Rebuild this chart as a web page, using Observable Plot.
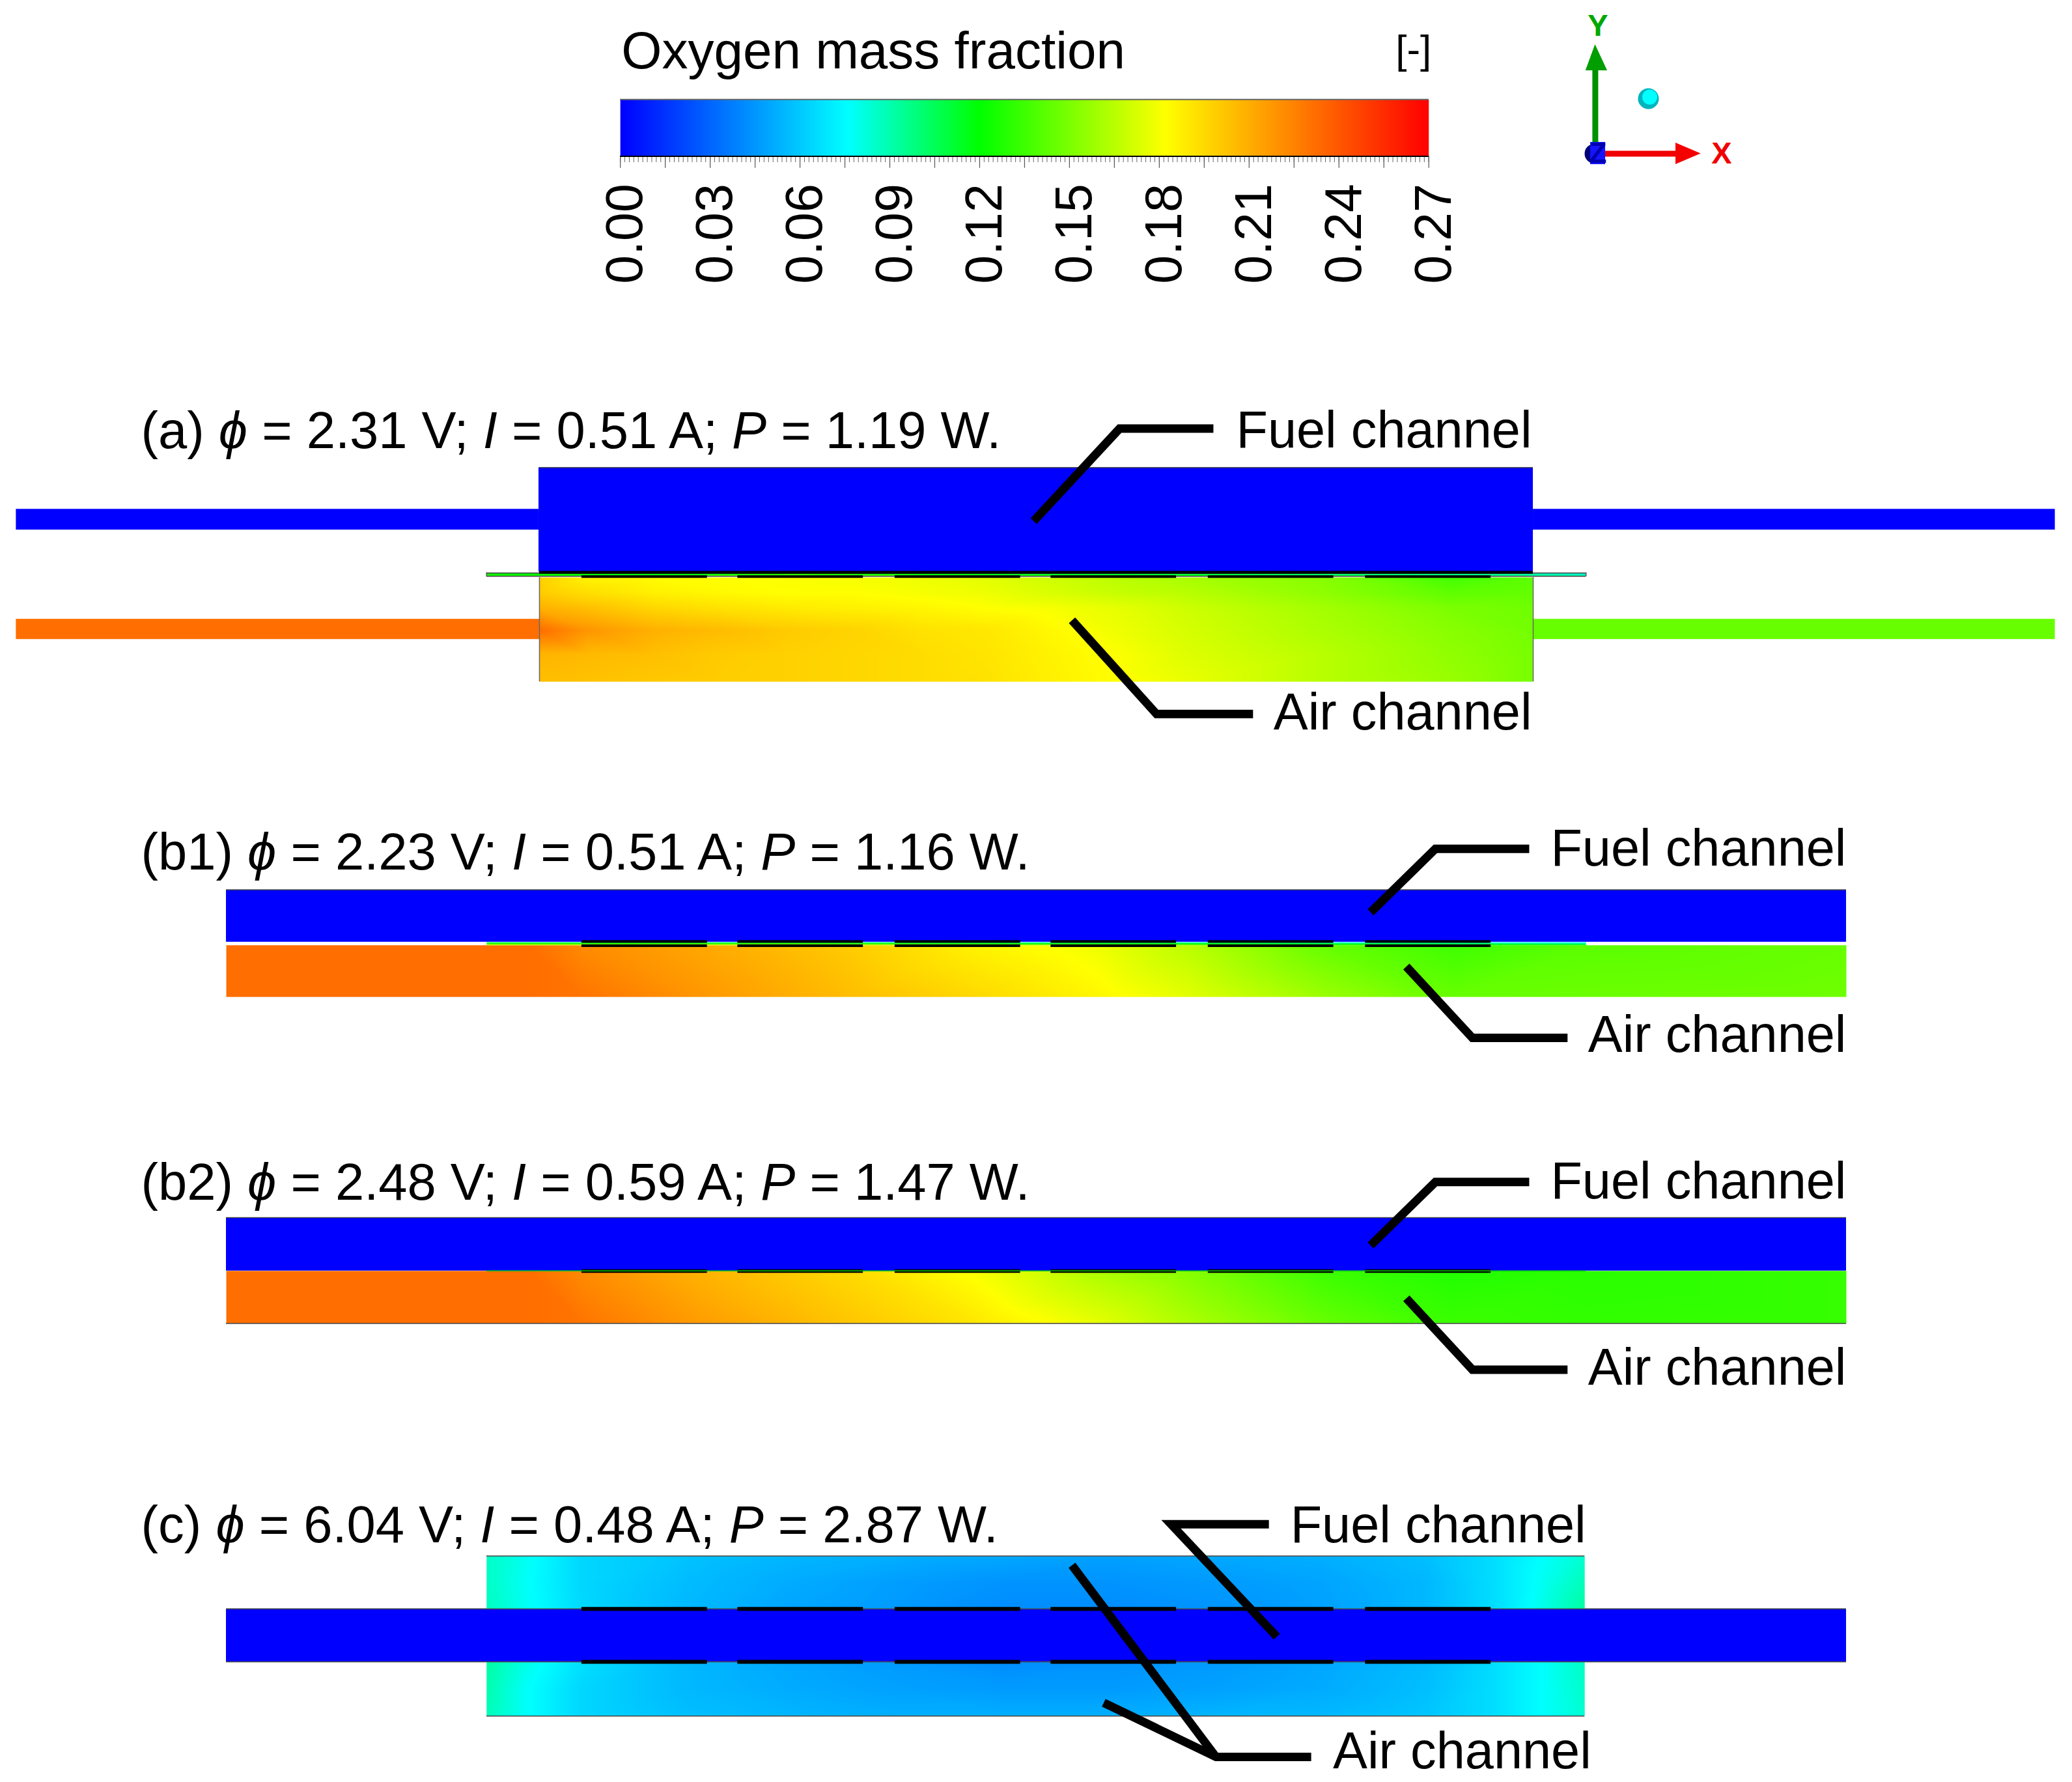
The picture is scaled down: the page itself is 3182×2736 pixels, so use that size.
<!DOCTYPE html>
<html><head><meta charset="utf-8">
<script src="https://cdn.jsdelivr.net/npm/d3@7"></script>
<script src="https://cdn.jsdelivr.net/npm/@observablehq/plot@0.6"></script>
<style>html,body{margin:0;padding:0;background:#fff}svg{display:block}</style>
</head><body><div id="chart"></div>
<script>
// Colour key
const colorStops = [0, 0.076, 0.12, 0.182, 0.27];
const colorRange = ["#0000ff", "#00ffff", "#00ff00", "#ffff00", "#ff0000"];
const cbLabels = [0, 0.03, 0.06, 0.09, 0.12, 0.15, 0.18, 0.21, 0.24, 0.27];
const cbMajor = d3.range(0, 0.2701, 0.015);
const cbMinor = d3.range(0, 0.2701, 0.0015);

// Oxygen mass fraction
const aX = [408, 445, 495, 545, 595, 646, 696, 746, 796, 847, 897, 998, 1098, 1160];
const aY = [436.6, 448.4, 460, 476.4, 494.5, 515.5];
const aRows = [
  [0.198, 0.186, 0.183, 0.182, 0.181, 0.180, 0.178, 0.175, 0.170, 0.165, 0.161, 0.153, 0.136, 0.142],
  [0.200, 0.193, 0.187, 0.184, 0.182, 0.182, 0.180, 0.178, 0.173, 0.168, 0.165, 0.155, 0.143, 0.144],
  [0.209, 0.204, 0.196, 0.192, 0.189, 0.187, 0.185, 0.182, 0.180, 0.176, 0.170, 0.160, 0.150, 0.147],
  [0.232, 0.218, 0.209, 0.205, 0.200, 0.197, 0.192, 0.190, 0.184, 0.178, 0.172, 0.162, 0.153, 0.148],
  [0.208, 0.206, 0.204, 0.200, 0.198, 0.196, 0.194, 0.191, 0.186, 0.181, 0.174, 0.165, 0.155, 0.149],
  [0.204, 0.203, 0.201, 0.199, 0.198, 0.196, 0.194, 0.192, 0.187, 0.182, 0.177, 0.165, 0.157, 0.149]
];
const bX = [171, 400, 440, 530, 640, 740, 830, 900, 1000, 1100, 1200, 1397];
const b1Rows = [
  [0.232, 0.232, 0.222, 0.212, 0.200, 0.186, 0.178, 0.165, 0.145, 0.135, 0.142, 0.145],
  [0.232, 0.232, 0.230, 0.218, 0.205, 0.195, 0.185, 0.175, 0.158, 0.145, 0.146, 0.147]
];
const b2Rows = [
  [0.232, 0.232, 0.222, 0.208, 0.195, 0.180, 0.162, 0.152, 0.135, 0.128, 0.130, 0.133],
  [0.232, 0.232, 0.230, 0.216, 0.202, 0.190, 0.176, 0.162, 0.145, 0.134, 0.132, 0.133]
];
const cX = [368, 395, 440, 520, 600, 680, 760, 840, 920, 1000, 1080, 1130, 1170, 1199];
const cUpperRows = [
  [0.086, 0.079, 0.064, 0.058, 0.054, 0.052, 0.050, 0.048, 0.050, 0.052, 0.057, 0.066, 0.077, 0.084],
  [0.086, 0.078, 0.064, 0.056, 0.051, 0.047, 0.044, 0.044, 0.046, 0.049, 0.055, 0.066, 0.079, 0.088],
  [0.087, 0.079, 0.065, 0.055, 0.049, 0.046, 0.042, 0.042, 0.044, 0.048, 0.055, 0.066, 0.081, 0.092]
];
const cLowerRows = [
  [0.092, 0.081, 0.067, 0.055, 0.050, 0.046, 0.042, 0.044, 0.046, 0.050, 0.056, 0.066, 0.077, 0.086],
  [0.090, 0.078, 0.064, 0.055, 0.051, 0.048, 0.046, 0.046, 0.048, 0.051, 0.057, 0.066, 0.077, 0.085],
  [0.088, 0.078, 0.064, 0.057, 0.054, 0.052, 0.052, 0.052, 0.054, 0.055, 0.059, 0.066, 0.077, 0.084]
];
const memX = [368, 600, 800, 1000, 1200];
const memARows = [[0.120, 0.105, 0.092, 0.086, 0.080], [0.128, 0.160, 0.140, 0.120, 0.092]];
const memB1Rows = [[0.095, 0.090, 0.080, 0.076, 0.070], [0.175, 0.180, 0.165, 0.140, 0.125]];

// Uniform channels
const uniformRects = [
  {x1: 12, x2: 407.5, y1: 385, y2: 400.7, v: 0},
  {x1: 1160, x2: 1555, y1: 385, y2: 400.7, v: 0},
  {x1: 407.5, x2: 1160, y1: 353.5, y2: 432.5, v: 0},
  {x1: 12, x2: 408, y1: 468.2, y2: 483.5, v: 0.232},
  {x1: 1160, x2: 1555, y1: 468.2, y2: 483.5, v: 0.145},
  {x1: 171, x2: 1397, y1: 673, y2: 712.5, v: 0},
  {x1: 171, x2: 1397, y1: 921, y2: 961.3, v: 0},
  {x1: 171, x2: 1397, y1: 1217, y2: 1257, v: 0}
];

// Text
const panelTitles = [
  {t: "(a) ϕ = 2.31 V; I = 0.51 A; P = 1.19 W.", y: 326},
  {t: "(b1) ϕ = 2.23 V; I = 0.51 A; P = 1.16 W.", y: 645},
  {t: "(b2) ϕ = 2.48 V; I = 0.59 A; P = 1.47 W.", y: 895},
  {t: "(c) ϕ = 6.04 V; I = 0.48 A; P = 2.87 W.", y: 1154}
];
const channelLabels = [
  {t: "Fuel channel", x: 1159, y: 326},
  {t: "Air channel", x: 1159, y: 539},
  {t: "Fuel channel", x: 1397, y: 642},
  {t: "Air channel", x: 1397, y: 783},
  {t: "Fuel channel", x: 1397, y: 894},
  {t: "Air channel", x: 1397, y: 1035},
  {t: "Fuel channel", x: 1200, y: 1154},
  {t: "Air channel", x: 1204, y: 1325}
];
const leaders = [
  [[918, 324], [847, 324], [782, 394]],
  [[948, 540], [875, 540], [811, 469]],
  [[1157, 642], [1086, 642], [1037, 690]],
  [[1186, 785], [1114, 785], [1064, 731]],
  [[1157, 894], [1086, 894], [1037, 942]],
  [[1186, 1036], [1114, 1036], [1064, 982]],
  [[960, 1153], [886, 1153], [966, 1238]],
  [[992, 1329], [920, 1329], [835, 1288]],
  [[920, 1329], [811, 1184]]
];
const dashes = [[440, 535], [558, 653], [677, 772], [795, 890], [914, 1009], [1033, 1128]];
const thinDashY = [436, 712.1, 715.3];
const midDashY = [961.4];
const thickDashY = [1217, 1257];
const edges = [
  {x1: 408, x2: 1160, y: 353.5}, {x1: 171, x2: 1397, y: 673},
  {x1: 171, x2: 1397, y: 921}, {x1: 171, x2: 1397, y: 1001}, {x1: 368, x2: 1199, y: 1177},
  {x1: 171, x2: 1397, y: 1217}, {x1: 171, x2: 1397, y: 1257}, {x1: 368, x2: 1199, y: 1298},
  {x1: 368, x2: 1200, y: 433.3}, {x1: 368, x2: 1200, y: 435.7}
];

const barLeft = 469.2, barRight = 1081, barTop = 75, barBottom = 118;
const barX = v => barLeft + (barRight - barLeft) * v / 0.27;

function grid(xs, ys, rows) {
  return rows.flatMap((row, j) => row.map((v, i) => ({x: xs[i], y: ys[j], v})));
}
function field(xs, ys, rows, y1, y2, x1 = xs[0], x2 = xs[xs.length - 1]) {
  return Plot.raster(grid(xs, ys, rows), {
    x: "x", y: "y", fill: "v", interpolate: "barycentric",
    x1, x2, y1, y2
  });
}
const FONT = "Arial, 'Liberation Sans', sans-serif";
const NARROW = "'Liberation Sans Narrow', 'Liberation Sans', sans-serif";

const plot = Plot.plot({
  width: 3182, height: 2736,
  marginTop: 0, marginRight: 0, marginBottom: 0, marginLeft: 0,
  x: {domain: [0, 1568], range: [0, 3182], axis: null},
  y: {domain: [0, 1348.2], range: [0, 2736], axis: null},
  color: {type: "linear", domain: colorStops, range: colorRange, interpolate: "rgb", clamp: true},
  style: {background: "#fff", fontFamily: FONT},
  marks: [
    Plot.rect(uniformRects, {x1: "x1", x2: "x2", y1: "y1", y2: "y2", fill: "v"}),
    // colour bar
    field([barX(0), barX(0.27)], [barTop, barBottom], [[0, 0.27], [0, 0.27]], barTop, barBottom),
    Plot.ruleX(cbMinor, {x: barX, y1: barBottom, y2: 122.7, stroke: "#666", strokeWidth: 1}),
    Plot.ruleX(cbMajor, {x: barX, y1: barBottom, y2: 127, stroke: "#555", strokeWidth: 1.2}),
    Plot.ruleY([barTop], {x1: barLeft, x2: barRight, stroke: "#666", strokeWidth: 2}),
    Plot.ruleY([barBottom], {x1: barLeft, x2: barRight, stroke: "#000", strokeWidth: 2}),
    Plot.text(cbLabels, {
      x: v => barX(v) + 4, y: 214.5, text: d3.format(".2f"), rotate: -90,
      textAnchor: "start", lineAnchor: "middle", fontSize: 79, fill: "#000"
    }),
    Plot.text(["Oxygen mass fraction"], {x: 470, y: 39, textAnchor: "start", lineAnchor: "middle", fontSize: 80, fill: "#000"}),
    Plot.text(["[-]"], {x: 1083, y: 38, textAnchor: "end", lineAnchor: "middle", fontSize: 62, fill: "#000"}),
    // triad
    Plot.ruleX([1207], {y1: 53.2, y2: 107.4, stroke: "#009000", strokeWidth: 9}),
    Plot.areaX([{y: 33.5, a: 1207, b: 1207}, {y: 53.2, a: 1199.8, b: 1216.2}], {y: "y", x1: "a", x2: "b", fill: "#009e00"}),
    Plot.ruleY([116], {x1: 1214, x2: 1268, stroke: "#f00000", strokeWidth: 9}),
    Plot.areaY([{x: 1267.9, a: 107.9, b: 124.2}, {x: 1287, a: 116, b: 116}], {x: "x", y1: "a", y2: "b", fill: "#f50000"}),
    Plot.dot([{}], {x: 1206.3, y: 116, r: 15, fill: "#00007a"}),
    Plot.rect([{}], {x1: 1203.4, x2: 1214.7, y1: 107.4, y2: 124.2, fill: "#1414ff"}),
    Plot.text(["Z"], {x: 1209, y: 116, fontSize: 44, fontWeight: "bold", fontFamily: NARROW, fill: "#0000b0"}),
    Plot.dot([{}], {x: 1247.2, y: 74.4, r: 16, fill: "#00b4be"}),
    Plot.dot([{}], {x: 1248.2, y: 73.2, r: 11.5, fill: "#00ffff"}),
    Plot.text(["Y"], {x: 1209, y: 19.2, fontSize: 47, fontWeight: "bold", fontFamily: NARROW, fill: "#00a800"}),
    Plot.text(["X"], {x: 1302.6, y: 116, fontSize: 47, fontWeight: "bold", fontFamily: NARROW, fill: "#f00000"}),
    // air fields
    field(aX, aY, aRows, 436.6, 515.5),
    field(memX, [433.4, 435.7], memARows, 433.4, 435.7),
    field(bX, [714.9, 754], b1Rows, 714.9, 754),
    field(memX, [712.6, 714.9], memB1Rows, 712.6, 714.9),
    field(bX, [961.3, 1001], b2Rows, 961.3, 1001),
    field(cX, [1177, 1197, 1217], cUpperRows, 1177, 1217),
    field(cX, [1257, 1277, 1298], cLowerRows, 1257, 1298),
    // edges
    Plot.ruleX([408, 1160], {y1: 436.6, y2: 515.5, stroke: "#666", strokeWidth: 1.5}),
    Plot.ruleX([368, 1200], {y1: 433, y2: 436, stroke: "#555", strokeWidth: 1.5}),
    Plot.ruleY(edges, {y: "y", x1: "x1", x2: "x2", stroke: "#444", strokeWidth: 1.5}),
    // interconnect dashes
    Plot.ruleY([432.8], {x1: 408, x2: 1160, stroke: "#000", strokeWidth: 4.5}),
    ...thinDashY.map(y => Plot.ruleY(dashes, {y: () => y, x1: d => d[0], x2: d => d[1], stroke: "#000", strokeWidth: 4})),
    ...midDashY.map(y => Plot.ruleY(dashes, {y: () => y, x1: d => d[0], x2: d => d[1], stroke: "#000", strokeWidth: 5.6})),
    Plot.ruleY([961.3], {x1: 368, x2: 1200, stroke: "#00c800", strokeWidth: 1.5}),
    ...thickDashY.map(y => Plot.ruleY(dashes, {y: () => y, x1: d => d[0], x2: d => d[1], stroke: "#000", strokeWidth: 6})),
    // leaders
    ...leaders.map(p => Plot.line(p, {x: d => d[0], y: d => d[1], stroke: "#000", strokeWidth: 13, strokeLinejoin: "miter", strokeLinecap: "butt", strokeMiterlimit: 10})),
    // text
    Plot.text(panelTitles, {x: 106.5, y: "y", text: "t", textAnchor: "start", lineAnchor: "middle", fontSize: 79.5, fill: "#000"}),
    Plot.text(channelLabels, {x: "x", y: "y", text: "t", textAnchor: "end", lineAnchor: "middle", fontSize: 79.3, fill: "#000"})
  ]
});
d3.select(plot).selectAll("text").filter(function () { return /ϕ/.test(this.textContent); }).each(function () {
  const s = this.textContent;
  this.textContent = "";
  for (const part of s.split(/(ϕ|\bI\b|\bP\b)/)) {
    if (!part) continue;
    const span = document.createElementNS("http://www.w3.org/2000/svg", "tspan");
    span.textContent = part;
    if (/^(ϕ|I|P)$/.test(part)) span.setAttribute("font-style", "italic");
    this.appendChild(span);
  }
});
document.getElementById("chart").appendChild(plot);
</script></body></html>
